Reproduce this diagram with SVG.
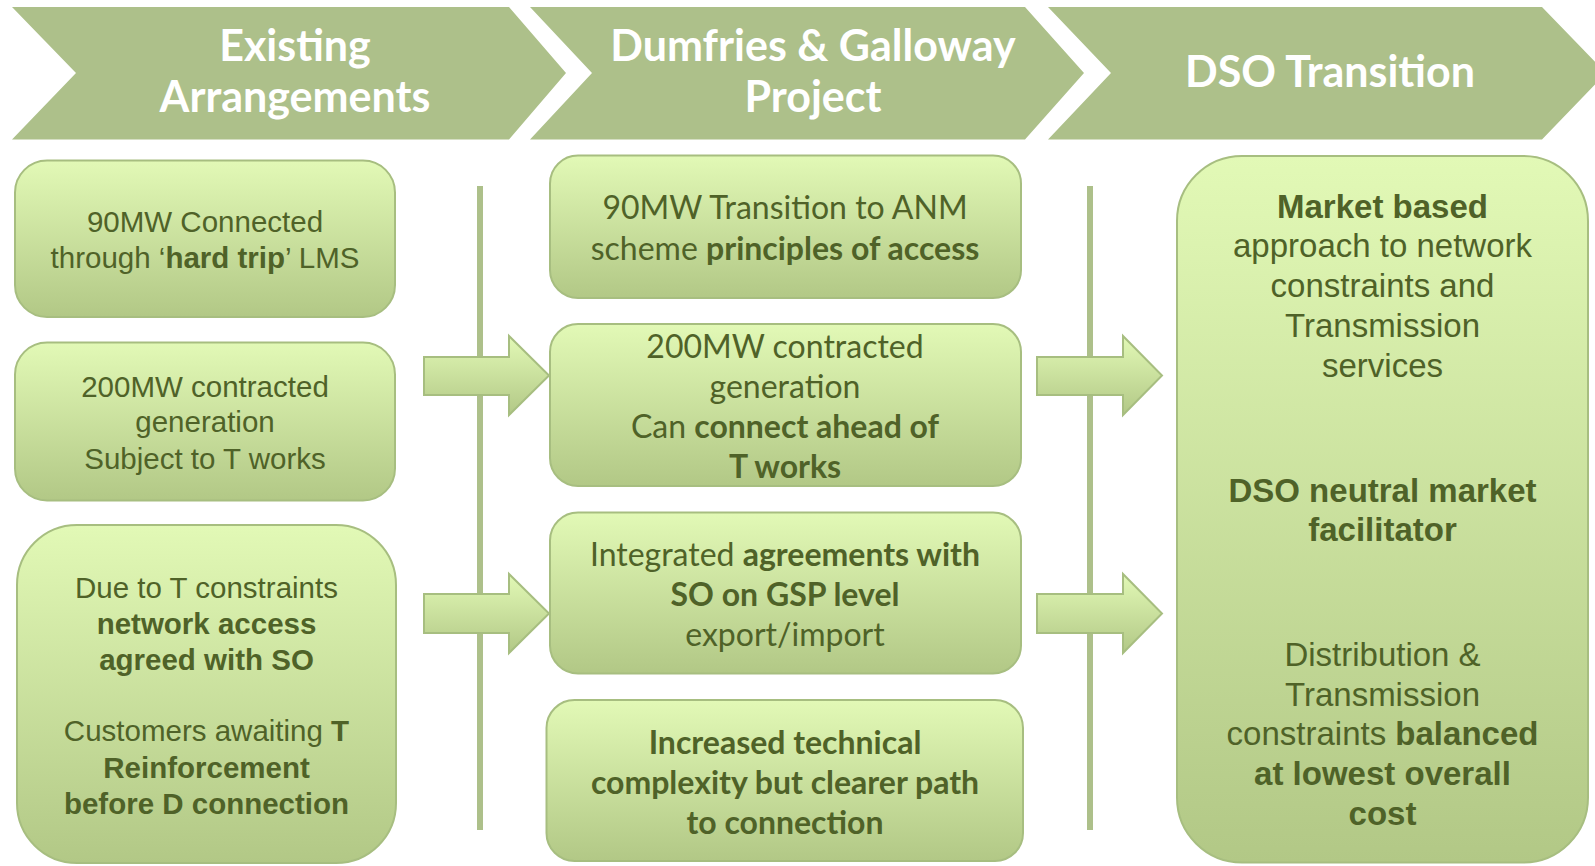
<svg xmlns="http://www.w3.org/2000/svg" width="1595" height="866" viewBox="0 0 1595 866">
  <defs>
    <linearGradient id="boxFill" x1="0" y1="0" x2="0" y2="1">
      <stop offset="0" stop-color="#e2f9b6"/>
      <stop offset="1" stop-color="#b2c886"/>
    </linearGradient>
  </defs>
  <style>
    .chev{fill:#adc08a}
    .title{font-family:Lato,"Liberation Sans",sans-serif;font-weight:bold;font-size:43px;fill:#ffffff;text-anchor:middle}
    .box{fill:url(#boxFill);stroke:#a7be80;stroke-width:2}
    .arrow{fill:url(#boxFill);stroke:#a7be80;stroke-width:2}
    .sep{stroke:#adc08a;stroke-width:6}
    .ar{font-family:"Liberation Sans",Arial,sans-serif;font-size:29.5px;fill:#4f6228;text-anchor:middle}
    .arL{font-family:"Liberation Sans",Arial,sans-serif;font-size:33px;fill:#4f6228;text-anchor:middle}
    .cal{font-family:Lato,"Liberation Sans",sans-serif;font-size:32px;fill:#4f6228;text-anchor:middle}
    .b{font-weight:bold}
  </style>

  <!-- stage headers -->
  <g id="stage-existing">
    <polygon class="chev" points="12,7 509,7 566,73 509,139.5 12,139.5 76,73"/>
    <text class="title" x="295" y="61">Existing</text>
    <text class="title" x="295" y="112">Arrangements</text>
  </g>
  <g id="stage-project">
    <polygon class="chev" points="530,7 1025,7 1084,73 1025,139.5 530,139.5 592,73"/>
    <text class="title" x="813" y="61">Dumfries &amp; Galloway</text>
    <text class="title" x="813" y="112">Project</text>
  </g>
  <g id="stage-dso">
    <polygon class="chev" points="1048,7 1542,7 1606,73 1542,139.5 1048,139.5 1111,73"/>
    <text class="title" x="1330" y="87">DSO Transition</text>
  </g>

  <!-- column dividers -->
  <g id="dividers">
    <line class="sep" x1="480" y1="186" x2="480" y2="830"/>
    <line class="sep" x1="1090" y1="186" x2="1090" y2="830"/>
  </g>

  <!-- block arrows between columns -->
  <g id="connectors">
    <polygon class="arrow" points="424,357 509,357 509,336 549,375.5 509,415 509,395 424,395"/>
    <polygon class="arrow" points="424,594 509,594 509,574 549,613.5 509,653 509,633 424,633"/>
    <polygon class="arrow" points="1037,357 1123,357 1123,336 1162,375.5 1123,415 1123,395 1037,395"/>
    <polygon class="arrow" points="1037,594 1123,594 1123,574 1162,613.5 1123,653 1123,633 1037,633"/>
  </g>

  <!-- existing arrangements column -->
  <g id="existing-hard-trip">
    <rect class="box" x="15" y="160.5" width="380" height="156.5" rx="32"/>
    <text class="ar" x="205" y="232">90MW Connected</text>
    <text class="ar" x="205" y="268">through ‘<tspan class="b">hard trip</tspan>’ LMS</text>
  </g>
  <g id="existing-contracted">
    <rect class="box" x="15" y="342.5" width="380" height="158" rx="32"/>
    <text class="ar" x="205" y="397">200MW contracted</text>
    <text class="ar" x="205" y="432">generation</text>
    <text class="ar" x="205" y="469">Subject to T works</text>
  </g>
  <g id="existing-constraints">
    <rect class="box" x="17" y="525" width="379" height="338" rx="60"/>
    <text class="ar" x="206.5" y="598">Due to T constraints</text>
    <text class="ar b" x="206.5" y="634">network access</text>
    <text class="ar b" x="206.5" y="670">agreed with SO</text>
    <text class="ar" x="206.5" y="741">Customers awaiting <tspan class="b">T</tspan></text>
    <text class="ar b" x="206.5" y="778">Reinforcement</text>
    <text class="ar b" x="206.5" y="814">before D connection</text>
  </g>

  <!-- project column -->
  <g id="project-anm">
    <rect class="box" x="550" y="155.5" width="471" height="142.5" rx="28"/>
    <text class="cal" x="785" y="219">90MW Transition to ANM</text>
    <text class="cal" x="785" y="260">scheme <tspan class="b">principles of access</tspan></text>
  </g>
  <g id="project-contracted">
    <rect class="box" x="550" y="324" width="471" height="162" rx="28"/>
    <text class="cal" x="785" y="358">200MW contracted</text>
    <text class="cal" x="785" y="398">generation</text>
    <text class="cal" x="785" y="438">Can <tspan class="b">connect ahead of</tspan></text>
    <text class="cal b" x="785" y="478">T works</text>
  </g>
  <g id="project-agreements">
    <rect class="box" x="550" y="512.5" width="471" height="161" rx="28"/>
    <text class="cal" x="785" y="566">Integrated <tspan class="b">agreements with</tspan></text>
    <text class="cal b" x="785" y="606">SO on GSP level</text>
    <text class="cal" x="785" y="646">export/import</text>
  </g>
  <g id="project-complexity">
    <rect class="box" x="546.5" y="700" width="476.5" height="161" rx="28"/>
    <text class="cal b" x="785" y="754">Increased technical</text>
    <text class="cal b" x="785" y="794">complexity but clearer path</text>
    <text class="cal b" x="785" y="834">to connection</text>
  </g>

  <!-- DSO transition column -->
  <g id="dso-outcomes">
    <rect class="box" x="1177" y="156" width="411" height="706.5" rx="65"/>
    <text class="arL b" x="1382.5" y="218">Market based</text>
    <text class="arL" x="1382.5" y="257">approach to network</text>
    <text class="arL" x="1382.5" y="297">constraints and</text>
    <text class="arL" x="1382.5" y="337">Transmission</text>
    <text class="arL" x="1382.5" y="377">services</text>
    <text class="arL b" x="1382.5" y="502">DSO neutral market</text>
    <text class="arL b" x="1382.5" y="541">facilitator</text>
    <text class="arL" x="1382.5" y="666">Distribution &amp;</text>
    <text class="arL" x="1382.5" y="706">Transmission</text>
    <text class="arL" x="1382.5" y="745">constraints <tspan class="b">balanced</tspan></text>
    <text class="arL b" x="1382.5" y="785">at lowest overall</text>
    <text class="arL b" x="1382.5" y="825">cost</text>
  </g>
</svg>
